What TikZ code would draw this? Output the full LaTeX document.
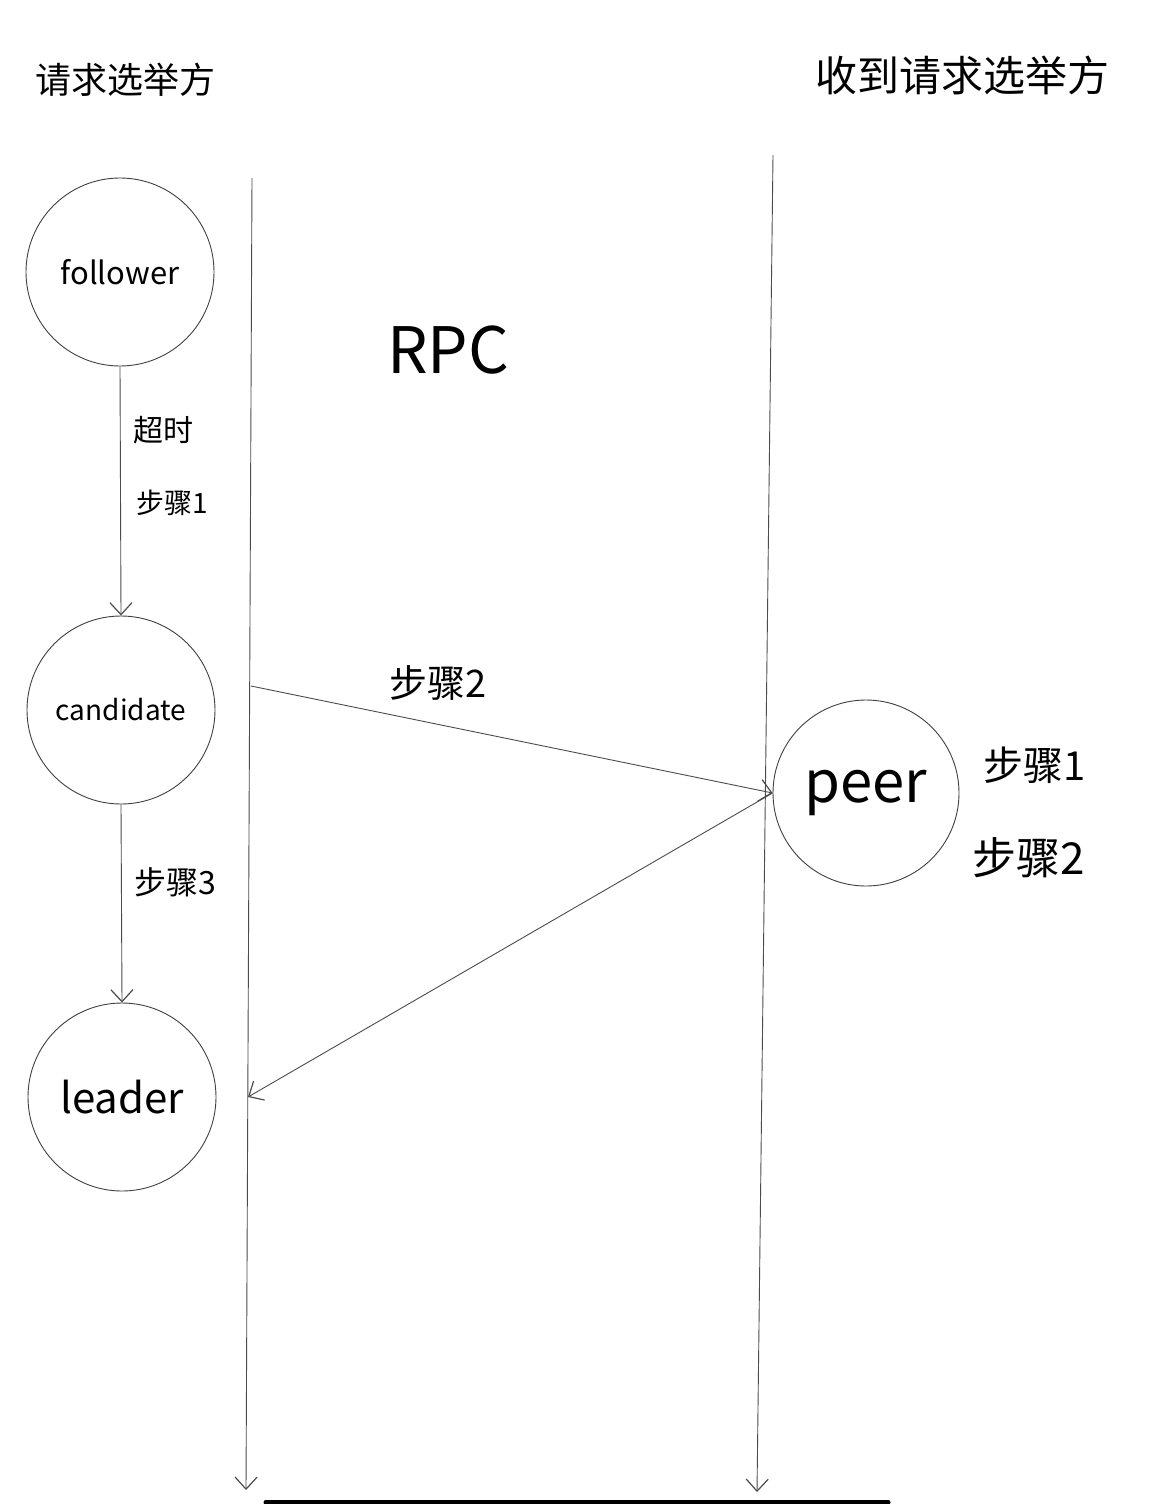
\documentclass[tikz,border=0pt]{standalone}
\usepackage{fontspec}
\setmainfont{Noto Sans CJK SC}
\usetikzlibrary{arrows.meta}
\begin{document}
\begin{tikzpicture}[x=1pt,y=-1pt,
  line/.style={draw=black!70,line width=0.9pt},
  arr/.style={line,-{Straight Barb[length=12pt,width=22pt,line width=1.2pt]}},
  state/.style={circle,draw=black!75,line width=0.9pt,minimum size=188pt,inner sep=0pt},
  lbl/.style={inner sep=0pt,text=black}]
\useasboundingbox (0,0) rectangle (1157,1504);
\fill[white] (0,0) rectangle (1157,1504);
% titles
\node[lbl,font=\fontsize{36}{40}\selectfont] (t1) at (125,80) {请求选举方};
\node[lbl,font=\fontsize{42}{46}\selectfont] (t2) at (962,75) {收到请求选举方};
% lifelines
\coordinate (l1top) at (252,178);
\coordinate (l1bot) at (246,1490);
\coordinate (l2top) at (773,155);
\coordinate (l2bot) at (757,1492);
\draw[arr] (l1top) -- (l1bot);
\draw[arr] (l2top) -- (l2bot);
% states
\node[state,font=\fontsize{31}{34}\selectfont] (f) at (120,272) {follower};
\node[state,font=\fontsize{28}{32}\selectfont] (c) at (121,710) {candidate};
\node[state,font=\fontsize{42}{46}\selectfont] (l) at (122,1097) {leader};
\node[state,minimum size=186pt,font=\fontsize{58}{62}\selectfont] (p) at (866,793) {peer};
% RPC
\node[lbl,font=\fontsize{64}{68}\selectfont] (rpc) at (448,350) {RPC};
% transitions
\draw[arr] (f.south) -- (c.north);
\draw[arr] (c.south) -- (l.north);
\node[lbl,font=\fontsize{30}{34}\selectfont] (s0) at (163,430) {超时};
\node[lbl,font=\fontsize{28}{32}\selectfont] (s1) at (172,503) {步骤1};
\node[lbl,font=\fontsize{32}{36}\selectfont] (s3) at (175,882) {步骤3};
% rpc arrows
\coordinate (cs) at (251,686);
\coordinate (lr) at (248,1097);
\draw[arr] (cs) -- (p.west);
\draw[arr] (p.west) -- (lr);
\node[lbl,font=\fontsize{38}{42}\selectfont] (s2) at (438,683) {步骤2};
\node[lbl,font=\fontsize{40}{44}\selectfont] (p1) at (1035,765) {步骤1};
\node[lbl,font=\fontsize{44}{48}\selectfont] (p2) at (1029,858) {步骤2};
% bottom bar
\draw[line width=5pt,line cap=round] (266,1502) -- (888,1502);
\end{tikzpicture}
\end{document}
